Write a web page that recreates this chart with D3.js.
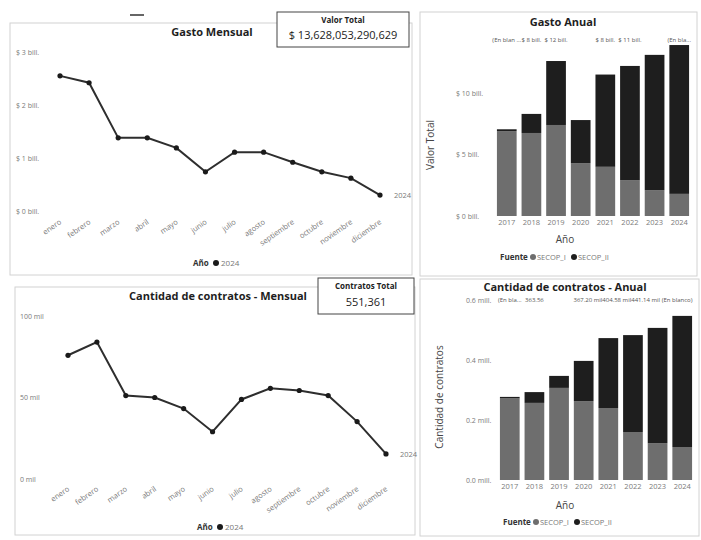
<!DOCTYPE html>
<html><head><meta charset="utf-8">
<script src="https://cdn.jsdelivr.net/npm/d3@7"></script>
<style>
body{margin:0;background:#fff;}
svg{font-family:"Open Sans","Noto Sans",sans-serif;}
</style></head>
<body><svg id="c" width="701" height="540"></svg>
<script>
// ---------- DATA ----------
const months = ["enero","febrero","marzo","abril","mayo","junio","julio","agosto","septiembre","octubre","noviembre","diciembre"];
const gastoMensual = [2.55,2.42,1.38,1.38,1.19,0.74,1.11,1.11,0.92,0.74,0.62,0.30]; // billones, 2024
const contratosMensual = [75.9,84.0,51.2,50.0,43.2,29.0,48.8,55.6,54.3,51.2,35.2,15.4]; // mil, 2024
const years = ["2017","2018","2019","2020","2021","2022","2023","2024"];
const gastoSecopI  = [6.9,6.75,7.4,4.3,4.0,2.9,2.1,1.8];
const gastoSecopII = [0.15,1.55,5.2,3.5,7.5,9.3,11.0,12.1];
const contSecopI  = [0.272,0.257,0.307,0.263,0.240,0.160,0.123,0.110];
const contSecopII = [0.005,0.036,0.040,0.134,0.233,0.323,0.384,0.437];
const gastoMensTicks = [0,1,2,3];
const gastoAnualTicks = [0,5,10];
const contMensTicks = [0,50,100];
const contAnualTicks = [0,0.2,0.4,0.6];
const gastoTopLabels = [["2017","(En blan ..."],["2018","$ 8 bill."],["2019","$ 12 bill."],["2021","$ 8 bill."],["2022","$ 11 bill."],["2024","(En bla..."]];
const contTopLabels = [["2017","(En bla..."],["2018","363.56"],["2022","367.20 mil404.58 mil441.14 mil (En blanco)"]];
const valorTotal = "$ 13,628,053,290,629";
const contratosTotal = "551,361";
const series = ["SECOP_I","SECOP_II"];

// ---------- STYLE ----------
const cI = "#6e6e6e", cII = "#1e1e1e", lineC = "#2e2e2e";
const svg = d3.select("#c");
const tickC = "#7a7a7a";

function panel(x,y,w,h){
  svg.append("rect").attr("x",x).attr("y",y).attr("width",w).attr("height",h)
    .attr("fill","none").attr("stroke","#d2d2d2").attr("stroke-width",1);
}
function title(x,y,t){
  svg.append("text").attr("x",x).attr("y",y).attr("text-anchor","middle")
    .attr("font-size",11).attr("font-weight","bold").attr("fill","#1e1e1e").text(t);
}
function styleAxis(g){
  g.attr("fill",null).attr("font-family",null).attr("font-size",null);
  g.select(".domain").remove();
  g.selectAll("line").remove();
  g.selectAll("text").attr("fill",tickC).attr("font-size",7);
}
function card(x,y,w,h,t,v){
  svg.append("rect").attr("x",x).attr("y",y).attr("width",w).attr("height",h)
    .attr("fill","#fff").attr("stroke","#444").attr("stroke-width",1);
  svg.append("text").attr("x",x+w/2).attr("y",y+11).attr("text-anchor","middle")
    .attr("font-size",8).attr("font-weight","bold").attr("fill","#222").text(t);
  svg.append("text").attr("x",x+w/2).attr("y",y+h-8).attr("text-anchor","middle")
    .attr("font-size",11).attr("fill","#222").text(v);
}

// panels
panel(10,23,402,252);
panel(420,12,277,264);
panel(15,287,400,248);
panel(420,279,279,257);
svg.append("line").attr("x1",130).attr("x2",144).attr("y1",15).attr("y2",15).attr("stroke","#333").attr("stroke-width",1.5);

// ---------- LINE CHART helper ----------
function lineChart(opt){
  const x = d3.scalePoint().domain(months).range(opt.xr);
  const y = d3.scaleLinear().domain(opt.yd).range(opt.yr);
  const ya = svg.append("g").attr("transform",`translate(${opt.ax},0)`)
    .call(d3.axisLeft(y).tickValues(opt.ticks).tickSize(0).tickPadding(0).tickFormat(opt.fmt));
  styleAxis(ya);
  ya.selectAll("text").attr("text-anchor","start").attr("x",-(opt.ax-opt.lx));
  const xa = svg.append("g").attr("transform",`translate(0,${opt.xay})`)
    .call(d3.axisBottom(x).tickSize(0).tickPadding(0));
  styleAxis(xa);
  xa.selectAll("text").attr("text-anchor","end").attr("dy","0.35em")
    .attr("transform","translate(0,7) rotate(-35)").attr("font-size",7.5);
  const line = d3.line().x((d,i)=>x(months[i])).y(d=>y(d));
  svg.append("path").datum(opt.data).attr("d",line).attr("fill","none")
    .attr("stroke",lineC).attr("stroke-width",2);
  svg.selectAll(null).data(opt.data).enter().append("circle")
    .attr("cx",(d,i)=>x(months[i])).attr("cy",d=>y(d)).attr("r",2.6).attr("fill","#1a1a1a");
  const last = opt.data[opt.data.length-1];
  svg.append("text").attr("x",x(months[11])+14).attr("y",y(last)+3)
    .attr("font-size",7.5).attr("fill",tickC).text("2024");
  const lg = svg.append("g").attr("transform",`translate(${opt.lg[0]},${opt.lg[1]})`);
  lg.append("text").attr("x",0).attr("y",0).attr("font-size",8).attr("font-weight","bold").attr("fill","#333").text("Año");
  lg.append("circle").attr("cx",23).attr("cy",-3).attr("r",3).attr("fill","#1a1a1a");
  lg.append("text").attr("x",28).attr("y",0).attr("font-size",8).attr("fill","#777").text("2024");
}

title(212,36,"Gasto Mensual");
card(277,12,132,35,"Valor Total",valorTotal);
lineChart({data:gastoMensual,xr:[60,380],yd:[0,3],yr:[211,52],ticks:gastoMensTicks,
  fmt:d=>`$ ${d} bill.`,ax:46,lx:16,xay:214,lg:[193,266]});

title(218,300,"Cantidad de contratos - Mensual");
card(318,278,96,36,"Contratos Total",contratosTotal);
lineChart({data:contratosMensual,xr:[68,386],yd:[0,100],yr:[479,316],ticks:contMensTicks,
  fmt:d=>`${d} mil`,ax:50,lx:20,xay:481,lg:[197,530]});

// ---------- BAR CHART helper ----------
function barChart(opt){
  const x = d3.scaleBand().domain(years).range(opt.xr).padding(0.2);
  const y = d3.scaleLinear().domain(opt.yd).range(opt.yr);
  const rows = years.map((yr,i)=>({year:yr,SECOP_I:opt.a[i],SECOP_II:opt.b[i]}));
  const stack = d3.stack().keys(series)(rows);
  const col = d3.scaleOrdinal().domain(series).range([cI,cII]);
  const ya = svg.append("g").attr("transform",`translate(${opt.ax},0)`)
    .call(d3.axisLeft(y).tickValues(opt.ticks).tickSize(0).tickPadding(0).tickFormat(opt.fmt));
  styleAxis(ya);
  ya.selectAll("text").attr("text-anchor","start").attr("x",-(opt.ax-opt.lx));
  svg.append("g").selectAll("g").data(stack).enter().append("g").attr("fill",d=>col(d.key))
    .selectAll("rect").data(d=>d).enter().append("rect")
    .attr("x",d=>x(d.data.year)).attr("width",x.bandwidth())
    .attr("y",d=>y(d[1])).attr("height",d=>y(d[0])-y(d[1]));
  const xa = svg.append("g").attr("transform",`translate(0,${opt.xay})`)
    .call(d3.axisBottom(x).tickSize(0).tickPadding(0));
  styleAxis(xa);
  xa.selectAll("text").attr("dy","0.9em").attr("font-size",7.5);
  svg.selectAll(null).data(opt.top).enter().append("text")
    .attr("x",d=>x(d[0])+x.bandwidth()/2).attr("y",opt.topY).attr("text-anchor","middle")
    .attr("font-size",6).attr("fill","#555").text(d=>d[1]);
  svg.append("text").attr("x",565).attr("y",opt.xty).attr("text-anchor","middle")
    .attr("font-size",10).attr("fill","#444").text("Año");
  svg.append("text").attr("transform",`translate(${opt.yt[0]},${opt.yt[1]}) rotate(-90)`)
    .attr("text-anchor","middle").attr("font-size",10).attr("fill","#444").text(opt.ytitle);
  const lg = svg.append("g").attr("transform",`translate(${opt.lg[0]},${opt.lg[1]})`);
  lg.append("text").attr("y",0).attr("font-size",8).attr("font-weight","bold").attr("fill","#333").text("Fuente");
  lg.append("circle").attr("cx",33).attr("cy",-3).attr("r",3).attr("fill",cI);
  lg.append("text").attr("x",37).attr("y",0).attr("font-size",7.5).attr("fill","#777").text("SECOP_I");
  lg.append("circle").attr("cx",74).attr("cy",-3).attr("r",3).attr("fill",cII);
  lg.append("text").attr("x",78).attr("y",0).attr("font-size",7.5).attr("fill","#777").text("SECOP_II");
}

title(563,26,"Gasto Anual");
barChart({a:gastoSecopI,b:gastoSecopII,xr:[492,694],yd:[0,15],yr:[216,31.5],ticks:gastoAnualTicks,
  fmt:d=>`$ ${d} bill.`,ax:484,lx:456,xay:218,top:gastoTopLabels,topY:42,xty:243,
  yt:[434,145],ytitle:"Valor Total",lg:[500,260]});

title(565,291,"Cantidad de contratos - Anual");
barChart({a:contSecopI,b:contSecopII,xr:[495,697],yd:[0,0.6],yr:[480,300],ticks:contAnualTicks,
  fmt:d=>`${d.toFixed(1)} mill.`,ax:492,lx:466,xay:482,top:contTopLabels,topY:302,xty:509,
  yt:[443,397],ytitle:"Cantidad de contratos",lg:[503,525]});
</script></body></html>
